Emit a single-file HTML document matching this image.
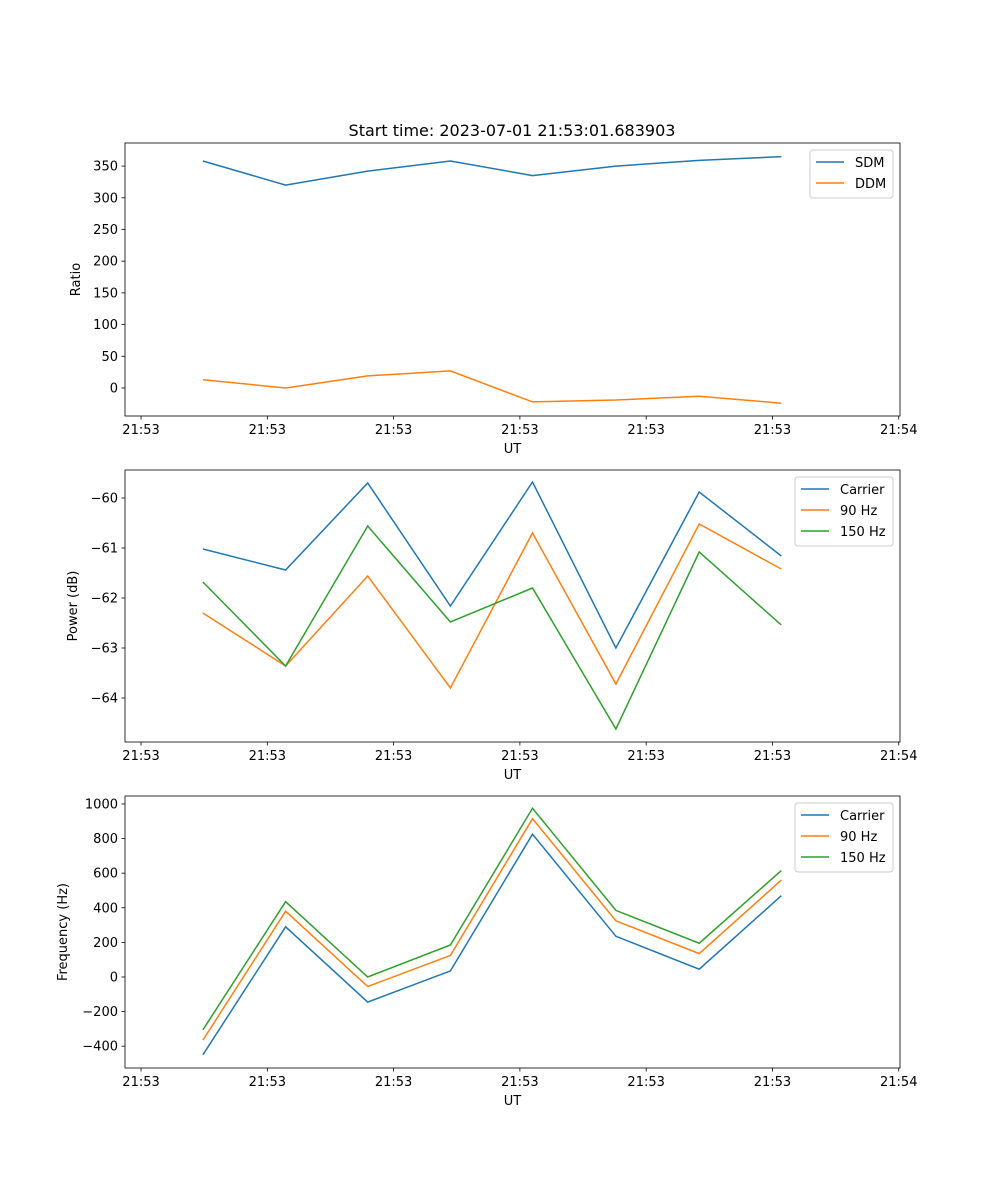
<!DOCTYPE html>
<html><head><meta charset="utf-8"><style>
body{margin:0;background:#fff}
svg{display:block;font-family:"DejaVu Sans","Liberation Sans",sans-serif}
</style></head><body>
<svg id="fig" width="1000" height="1200" viewBox="0 0 1000 1200"></svg>
<script>
const times = [4.9, 11.45, 17.95, 24.5, 31.0, 37.6, 44.2, 50.7];
const xTickVals = [0, 10, 20, 30, 40, 50, 60];
const xTickLabels = ["21:53","21:53","21:53","21:53","21:53","21:53","21:54"];
const sdm = [358, 320, 342, 358, 335, 350, 359, 365];
const ddm = [13, 0, 19, 27, -22, -19, -13, -24];
const pCarrier = [-61.02, -61.44, -59.7, -62.16, -59.68, -63.0, -59.88, -61.16];
const p90 = [-62.3, -63.36, -61.56, -63.8, -60.7, -63.72, -60.52, -61.42];
const p150 = [-61.68, -63.36, -60.56, -62.48, -61.8, -64.62, -61.08, -62.54];
const fCarrier = [-450, 290, -145, 35, 825, 235, 45, 470];
const f90 = [-365, 380, -55, 125, 915, 325, 135, 560];
const f150 = [-305, 435, 0, 185, 975, 385, 195, 615];
const ticks1 = [0, 50, 100, 150, 200, 250, 300, 350];
const ticks2 = [-64, -63, -62, -61, -60];
const ticks3 = [-400, -200, 0, 200, 400, 600, 800, 1000];

const NS = "http://www.w3.org/2000/svg";
const fig = document.getElementById('fig');
function el(tag, attrs, parent, text){
  const e = document.createElementNS(NS, tag);
  for (const k in attrs) e.setAttribute(k, attrs[k]);
  if (text !== undefined) e.textContent = text;
  (parent || fig).appendChild(e);
  return e;
}
const L = 125, R = 900, X0 = -1.27, X1 = 60.1;
const xs = t => L + (t - X0) / (X1 - X0) * (R - L);
const C = ["#1f77b4", "#ff7f0e", "#2ca02c"];

function panel(name, top, bottom, y0, y1, yticks, series, names, ylabel, leg, tickFmt){
  const g = el('g', {});
  
  
  const ys = v => bottom - (v - y0) / (y1 - y0) * (bottom - top);
  series.forEach((s, i) => {
    const p = el('polyline', {points: s.map((v, j) => xs(times[j]).toFixed(1) + ',' + ys(v).toFixed(1)).join(' '), fill: 'none', stroke: C[i], 'stroke-width': 1.5}, g);
    
    
  });
  el('rect', {x: L, y: top, width: R - L, height: bottom - top, fill: 'none', stroke: '#000', 'stroke-width': 0.8}, g);
  xTickVals.forEach((t, i) => {
    const x = xs(t);
    el('line', {x1: x, x2: x, y1: bottom, y2: bottom + 3.5, stroke: '#000', 'stroke-width': 0.8}, g);
    const tx = el('text', {x: x, y: bottom + 18, 'text-anchor': 'middle', 'font-size': 13}, g, xTickLabels[i]);
    
    
  });
  yticks.forEach(v => {
    const y = ys(v);
    el('line', {x1: L, x2: L - 3.5, y1: y, y2: y, stroke: '#000', 'stroke-width': 0.8}, g);
    const tx = el('text', {x: L - 7, y: y + 4.5, 'text-anchor': 'end', 'font-size': 13}, g, tickFmt(v));
    
    
  });
  const xl = el('text', {x: (L + R) / 2, y: bottom + 37, 'text-anchor': 'middle', 'font-size': 13}, g, 'UT');
  
  
  const yx = leg.ylx, yy = (top + bottom) / 2;
  const yl = el('text', {x: yx, y: yy, 'text-anchor': 'middle', 'font-size': 13, transform: 'rotate(-90 ' + yx + ' ' + yy + ')'}, g, ylabel);
  
  
  const lg = el('g', {}, g);
  
  
  el('rect', {x: leg.x, y: top + 7, width: R - 7 - leg.x, height: names.length * 21 + 6, rx: 3, fill: '#fff', 'fill-opacity': 0.8, stroke: '#ccc'}, lg);
  names.forEach((n, i) => {
    const y = top + 19 + i * 21;
    el('line', {x1: leg.x + 6, x2: leg.x + 34, y1: y, y2: y, stroke: C[i], 'stroke-width': 1.5}, lg);
    const t = el('text', {x: leg.x + 45, y: y + 5, 'font-size': 13}, lg, n);
    
    
  });
}
const title = el('text', {x: 512, y: 136, 'text-anchor': 'middle', 'font-size': 16}, fig, 'Start time: 2023-07-01 21:53:01.683903');


panel('ratio-panel', 143, 416, -44.2, 386.4, ticks1, [sdm, ddm], ['SDM', 'DDM'], 'Ratio', {x: 810, ylx: 80}, v => v < 0 ? '\u2212' + (-v) : String(v));
panel('power-panel', 470, 742, -64.88, -59.44, ticks2, [pCarrier, p90, p150], ['Carrier', '90 Hz', '150 Hz'], 'Power (dB)', {x: 795, ylx: 77}, v => '\u2212' + (-v));
panel('frequency-panel', 796, 1068, -526, 1046, ticks3, [fCarrier, f90, f150], ['Carrier', '90 Hz', '150 Hz'], 'Frequency (Hz)', {x: 795, ylx: 67}, v => v < 0 ? '\u2212' + (-v) : String(v));
</script>
</body></html>
